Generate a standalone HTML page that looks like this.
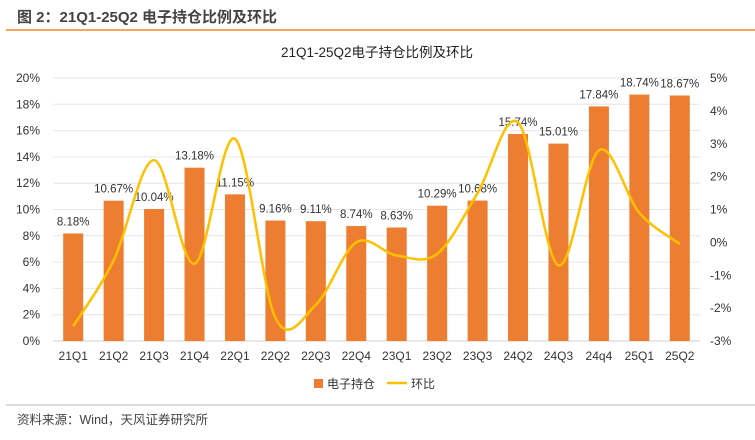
<!DOCTYPE html>
<html><head><meta charset="utf-8"><style>
body{margin:0;width:755px;height:435px;background:#fff;font-family:"Liberation Sans","Noto Sans CJK SC",sans-serif;overflow:hidden}
</style></head><body>
<svg width="755" height="435" font-family="Liberation Sans, Noto Sans CJK SC, sans-serif">
<text x="17" y="22" font-size="15" font-weight="bold" fill="#444">图 2：21Q1-25Q2 电子持仓比例及环比</text>
<line x1="6" y1="30" x2="755" y2="30" stroke="#f08a24" stroke-width="1.5"/>
<text x="377" y="57" font-size="13.5" fill="#222" text-anchor="middle">21Q1-25Q2电子持仓比例及环比</text>
<g id="grid"></g><g id="bars"></g><g id="labels"></g><path id="line" fill="none" stroke="#ffc000" stroke-width="2.5"/>
<g id="axes" font-size="12" fill="#333"></g>
<g>
<rect x="314" y="379" width="9" height="9" fill="#ed7d31"/>
<text x="327" y="388" font-size="12" fill="#333">电子持仓</text>
<line x1="387" y1="383" x2="407" y2="383" stroke="#ffc000" stroke-width="2.5"/>
<text x="411" y="388" font-size="12" fill="#333">环比</text>
</g>
<line x1="6" y1="405" x2="755" y2="405" stroke="#bbb" stroke-width="1"/>
<text x="17" y="424" font-size="12.5" fill="#444">资料来源：Wind，天风证券研究所</text>
</svg>
<script>
const categories=["21Q1","21Q2","21Q3","21Q4","22Q1","22Q2","22Q3","22Q4","23Q1","23Q2","23Q3","24Q2","24Q3","24q4","25Q1","25Q2"];
const holding=[8.18,10.67,10.04,13.18,11.15,9.16,9.11,8.74,8.63,10.29,10.68,15.74,15.01,17.84,18.74,18.67];
const qoq=[-2.55,-0.55,2.5,-0.65,3.15,-2.3,-1.9,0,-0.4,-0.35,1.5,3.65,-0.7,2.8,0.9,-0.05];
const leftTicks=[0,2,4,6,8,10,12,14,16,18,20];
const rightTicks=[-3,-2,-1,0,1,2,3,4,5];
const NS="http://www.w3.org/2000/svg";
const x0=53,x1=700,yTop=78,yBot=341;
const bw=(x1-x0)/categories.length;
const xc=i=>x0+bw*(i+0.5);
const yL=v=>yBot-(v/20)*(yBot-yTop);
const yR=v=>yBot-((v+3)/8)*(yBot-yTop);
function mk(tag,attrs,parent){const e=document.createElementNS(NS,tag);for(const k in attrs)e.setAttribute(k,attrs[k]);parent.appendChild(e);return e;}
const grid=document.getElementById('grid'),bars=document.getElementById('bars'),labels=document.getElementById('labels'),axes=document.getElementById('axes');
leftTicks.forEach(t=>{
 const l=mk('line',{x1:x0,x2:x1,y1:yL(t),y2:yL(t),stroke:t===0?'#d0d0d0':'#e6e6e6'},grid);
 
 
 const tx=mk('text',{x:40,y:yL(t)+4,'text-anchor':'end'},axes);tx.textContent=t+'%';
 
 
});
rightTicks.forEach(t=>{
 const tx=mk('text',{x:710,y:yR(t)+4},axes);tx.textContent=t+'%';
 
 
});
categories.forEach((c,i)=>{
 const r=mk('rect',{x:xc(i)-10,y:yL(holding[i]),width:20,height:yBot-yL(holding[i]),fill:'#ed7d31'},bars);
 
 
 const lb=mk('text',{x:xc(i),y:yL(holding[i])-8,'text-anchor':'middle','font-size':'11.5',fill:'#333'},labels);lb.textContent=holding[i].toFixed(2)+'%';
 
 
 const tx=mk('text',{x:xc(i),y:360,'text-anchor':'middle'},axes);tx.textContent=c;
 
 
});
const pts=qoq.map((v,i)=>[xc(i),yR(v)]);
let d='M'+pts[0][0]+','+pts[0][1];
for(let i=0;i<pts.length-1;i++){
 const p0=pts[Math.max(0,i-1)],p1=pts[i],p2=pts[i+1],p3=pts[Math.min(pts.length-1,i+2)];
 const t=1/6;
 d+=` C${p1[0]+(p2[0]-p0[0])*t},${p1[1]+(p2[1]-p0[1])*t} ${p2[0]-(p3[0]-p1[0])*t},${p2[1]-(p3[1]-p1[1])*t} ${p2[0]},${p2[1]}`;
}
document.getElementById('line').setAttribute('d',d);
</script>
</body></html>
